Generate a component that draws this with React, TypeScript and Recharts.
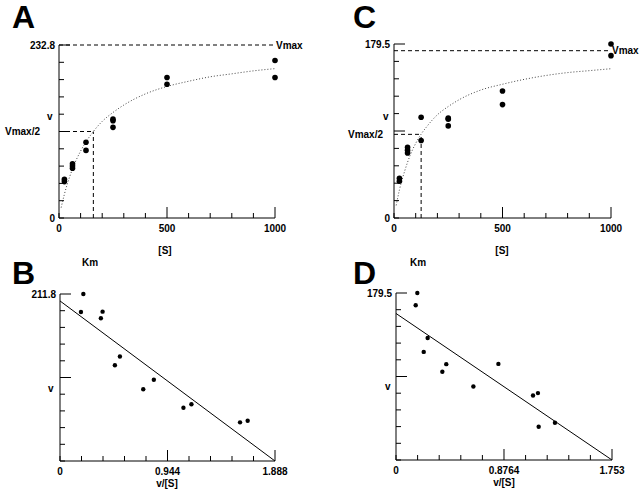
import React from 'react'
import { ComposedChart, XAxis, YAxis, Scatter, Line, ReferenceLine } from 'recharts'

// A: v against [S], replicate points
const aS = [25, 25, 62.5, 62.5, 62.5, 125, 125, 250, 250, 250, 500, 500, 1000, 1000]
const aV = [52, 49, 73, 70, 67, 102, 91, 133, 131, 122, 189, 180, 212, 189]
// fitted curve
const aCurveS = [10, 25, 50, 75, 100, 159, 200, 250, 300, 400, 500, 600, 700, 800, 900, 1000]
const aCurveV = [14, 32, 56, 75, 90, 116.4, 130, 142, 152, 167, 177, 184, 190, 194, 198, 201]
const aVmax = 232.8
const aKm = 159

// C: v against [S]
const cS = [25, 25, 62.5, 62.5, 62.5, 125, 125, 250, 250, 250, 500, 500, 1000, 1000]
const cV = [41, 38, 73, 70, 67, 104, 80, 103, 102, 95, 131, 117, 179.5, 167.5]
const cCurveS = [10, 25, 50, 75, 100, 125, 150, 200, 250, 300, 400, 500, 600, 700, 800, 900, 1000]
const cCurveV = [13, 29, 49, 65, 77, 86.5, 94, 106.5, 115, 122, 132, 138, 143, 147, 150, 152, 154]
const cVmax = 172.6
const cKm = 125

// B: Eadie-Hofstee, v against v/[S]
const bX = [0.205, 0.184, 0.359, 0.374, 0.526, 0.482, 0.731, 0.824, 1.084, 1.154, 1.581, 1.648]
const bY = [211.8, 189, 181, 189.4, 132.5, 121.5, 91, 103, 67.5, 72, 49, 51]
const bFitX = [0, 1.888]
const bFitY = [203, 0]

// D: Eadie-Hofstee
const dX = [0.173, 0.16, 0.257, 0.225, 0.408, 0.376, 0.628, 0.831, 1.112, 1.152, 1.158, 1.29]
const dY = [179.5, 166.3, 131.2, 116.2, 103, 94.8, 79, 103.3, 69.4, 71.9, 35.8, 40]
const dFitX = [0, 1.753]
const dFitY = [157.5, 0]

// tick positions
const sTicks = [0, 100, 200, 300, 400, 500, 600, 700, 800, 900, 1000]
const aYTicks = [0, 23.28, 46.56, 69.84, 93.12, 116.4, 139.68, 162.96, 186.24, 209.52, 232.8]
const cYTicks = [0, 17.95, 35.9, 53.85, 71.8, 89.75, 107.7, 125.65, 143.6, 161.55, 179.5]
const bXTicks = [0, 0.1888, 0.3776, 0.5664, 0.7552, 0.944, 1.1328, 1.3216, 1.5104, 1.6992, 1.888]
const bYTicks = [0, 21.18, 42.36, 63.54, 84.72, 105.9, 127.08, 148.26, 169.44, 190.62, 211.8]
const dXTicks = [0, 0.1753, 0.3506, 0.5259, 0.7012, 0.8764, 1.0517, 1.227, 1.4023, 1.5776, 1.753]
const dYTicks = [0, 17.95, 35.9, 53.85, 71.8, 89.75, 107.7, 125.65, 143.6, 161.55, 179.5]

const zip = (xs: number[], ys: number[]) => xs.map((x, i) => ({ x, y: ys[i] }))

const FONT = '"Liberation Sans", Arial, sans-serif'
const MAJOR = [5, 10]

const XTick = (props: any) => {
  const { x, y, payload, index, labels } = props
  const len = MAJOR.includes(index) ? 11 : 5
  return (
    <g>
      <line x1={x} y1={y} x2={x} y2={y - len} stroke="#000" />
      {labels.includes(index) && (
        <text x={x} y={y + 14} textAnchor="middle" fontSize={10} fontWeight="bold" fontFamily={FONT} fill="#000">
          {payload.value}
        </text>
      )}
    </g>
  )
}

const YTick = (props: any) => {
  const { x, y, payload, index, labels } = props
  const len = MAJOR.includes(index) ? 11 : 5
  return (
    <g>
      <line x1={x} y1={y} x2={x + len} y2={y} stroke="#000" />
      {labels.includes(index) && (
        <text x={x - 4} y={y + 3.5} textAnchor="end" fontSize={10} fontWeight="bold" fontFamily={FONT} fill="#000">
          {payload.value}
        </text>
      )}
    </g>
  )
}

const dot = (r: number) => (p: any) => <circle cx={p.cx} cy={p.cy} r={r} fill="#000" />

const labelStyle = { fontSize: 10, fontWeight: 'bold', fill: '#000', fontFamily: FONT }

interface PanelProps {
  left: number
  top: number
  height: number
  margin: { top: number; right: number; bottom: number; left: number }
  points: { x: number; y: number }[]
  fit: { x: number; y: number }[]
  curve: boolean
  xTicks: number[]
  yTicks: number[]
  yLabels: number[]
  dotR: number
  vmax?: number
  km?: number
  halfOffset?: number
}

const Panel = ({ left, top, height, margin, points, fit, curve, xTicks, yTicks, yLabels, dotR, vmax, km, halfOffset }: PanelProps) => {
  const xMax = xTicks[xTicks.length - 1]
  const yMax = yTicks[yTicks.length - 1]
  return (
    <div style={{ position: 'absolute', left, top }}>
      <ComposedChart width={320} height={height} margin={margin}>
        <XAxis
          type="number"
          dataKey="x"
          domain={[0, xMax]}
          ticks={xTicks}
          interval={0}
          height={20}
          tickSize={0}
          tickMargin={0}
          tickLine={false}
          axisLine={{ stroke: '#000' }}
          tick={(p: any) => <XTick {...p} labels={[0, 5, 10]} />}
        />
        <YAxis
          type="number"
          dataKey="y"
          domain={[0, yMax]}
          ticks={yTicks}
          interval={0}
          width={20}
          tickSize={0}
          tickMargin={0}
          tickLine={false}
          axisLine={{ stroke: '#000' }}
          tick={(p: any) => <YTick {...p} labels={yLabels} />}
        />
        {vmax !== undefined && km !== undefined && (
          <>
            <ReferenceLine
              segment={[{ x: 0, y: vmax }, { x: xMax, y: vmax }]}
              stroke="#000"
              strokeDasharray="4 3"
              ifOverflow="visible"
              label={{ value: 'Vmax', position: 'right', offset: 1, ...labelStyle }}
            />
            <ReferenceLine
              segment={[{ x: 0, y: vmax / 2 }, { x: km, y: vmax / 2 }]}
              stroke="#000"
              strokeDasharray="4 3"
              ifOverflow="visible"
              label={{ value: 'Vmax/2', position: 'left', offset: halfOffset, ...labelStyle }}
            />
            <ReferenceLine
              segment={[{ x: km, y: 0 }, { x: km, y: vmax / 2 }]}
              stroke="#000"
              strokeDasharray="4 3"
              ifOverflow="visible"
            />
          </>
        )}
        {curve ? (
          <Line data={fit} dataKey="y" type="monotone" stroke="#444" strokeWidth={1} strokeDasharray="1 2" dot={false} isAnimationActive={false} />
        ) : (
          <Line data={fit} dataKey="y" type="linear" stroke="#000" strokeWidth={1} dot={false} isAnimationActive={false} />
        )}
        <Scatter data={points} dataKey="y" shape={dot(dotR)} isAnimationActive={false} />
      </ComposedChart>
    </div>
  )
}

const T = ({ x, y, size = 10, anchor = 'start', children }: any) => (
  <text x={x} y={y} fontSize={size} fontWeight="bold" fontFamily={FONT} textAnchor={anchor} fill="#000">
    {children}
  </text>
)

export default function App() {
  return (
    <div style={{ position: 'absolute', left: 0, top: 0, width: 640, height: 493, background: '#fff', overflow: 'hidden' }}>
      <Panel
        left={0} top={0} height={260}
        margin={{ top: 45, right: 45, bottom: 22, left: 39 }}
        points={zip(aS, aV)} fit={zip(aCurveS, aCurveV)} curve
        xTicks={sTicks} yTicks={aYTicks} yLabels={[0, 10]} dotR={2.8}
        vmax={aVmax} km={aKm} halfOffset={19}
      />
      <Panel
        left={320} top={0} height={260}
        margin={{ top: 44, right: 29, bottom: 22, left: 54 }}
        points={zip(cS, cV)} fit={zip(cCurveS, cCurveV)} curve
        xTicks={sTicks} yTicks={cYTicks} yLabels={[0, 10]} dotR={2.8}
        vmax={cVmax} km={cKm} halfOffset={11}
      />
      <Panel
        left={0} top={260} height={233}
        margin={{ top: 34, right: 45, bottom: 12, left: 40 }}
        points={zip(bX, bY)} fit={zip(bFitX, bFitY)} curve={false}
        xTicks={bXTicks} yTicks={bYTicks} yLabels={[10]} dotR={2.2}
      />
      <Panel
        left={320} top={260} height={233}
        margin={{ top: 33, right: 28, bottom: 13, left: 56 }}
        points={zip(dX, dY)} fit={zip(dFitX, dFitY)} curve={false}
        xTicks={dXTicks} yTicks={dYTicks} yLabels={[10]} dotR={2.2}
      />
      <svg width={640} height={493} style={{ position: 'absolute', left: 0, top: 0, pointerEvents: 'none' }}>
        <T x={12} y={28} size={32}>A</T>
        <T x={353} y={28} size={32}>C</T>
        <T x={12} y={284} size={32}>B</T>
        <T x={353} y={284} size={32}>D</T>
        <T x={82} y={266}>Km</T>
        <T x={410} y={266}>Km</T>
        <T x={47} y={120}>v</T>
        <T x={383} y={120}>v</T>
        <T x={48} y={392}>v</T>
        <T x={385} y={390}>v</T>
        <T x={165} y={254} anchor="middle">[S]</T>
        <T x={502} y={254} anchor="middle">[S]</T>
        <T x={167} y={487} anchor="middle">v/[S]</T>
        <T x={504} y={486} anchor="middle">v/[S]</T>
      </svg>
    </div>
  )
}
